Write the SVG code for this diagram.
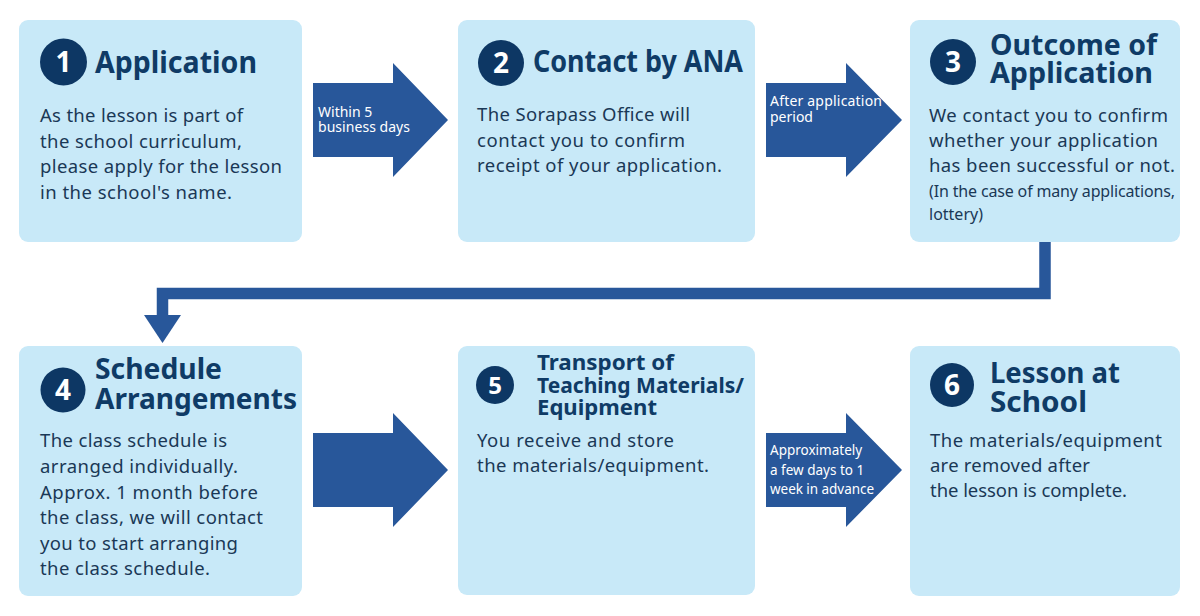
<svg xmlns="http://www.w3.org/2000/svg" width="1200" height="616" viewBox="0 0 1200 616">
<style>
  .box{fill:#c8e9f8;}
  .num{fill:#0d3764;}
  .numt{font-family:"Noto Sans","Open Sans",sans-serif;font-weight:700;fill:#ffffff;text-anchor:middle;}
  .h{font-family:"Noto Sans","Open Sans",sans-serif;font-weight:700;fill:#0f3b66;}
  .b{font-family:"Noto Sans","Open Sans",sans-serif;font-size:18.5px;fill:#1a3856;}
  .s{font-family:"Noto Sans","Open Sans",sans-serif;font-size:16px;fill:#1a3856;}
  .arrow{fill:#28579a;}
  .lbl{font-family:"Noto Sans","Open Sans",sans-serif;font-size:14px;fill:#ffffff;}
  .elbow{fill:none;stroke:#28579a;stroke-width:11.5;}
</style>
<rect width="1200" height="616" fill="#ffffff"/>

<g id="connectors">
  <g id="arrow-1-2">
    <polygon class="arrow" points="313,83 393,83 393,63 448,120 393,177 393,157 313,157"/>
    <text class="lbl"><tspan x="318" y="117">Within 5</tspan><tspan x="318" y="132" textLength="92">business days</tspan></text>
  </g>
  <g id="arrow-2-3">
    <polygon class="arrow" points="766,83 846,83 846,63 902,120 846,177 846,157 766,157"/>
    <text class="lbl"><tspan x="770" y="106" textLength="112">After application</tspan><tspan x="770" y="122">period</tspan></text>
  </g>
  <g id="arrow-3-4">
    <path class="elbow" d="M1045,242 V293.5 H162.5 V316"/>
    <polygon class="arrow" points="144,315 181,315 162.5,343"/>
  </g>
  <g id="arrow-4-5">
    <polygon class="arrow" points="313,433 393,433 393,413 448,470 393,527 393,507 313,507"/>
  </g>
  <g id="arrow-5-6">
    <polygon class="arrow" points="766,433 846,433 846,413 902,470 846,527 846,507 766,507"/>
    <text class="lbl" style="font-size:13.5px"><tspan x="770" y="455">Approximately</tspan><tspan x="770" y="474.5">a few days to 1</tspan><tspan x="770" y="494" textLength="104">week in advance</tspan></text>
  </g>
</g>

<g id="node-1">
  <rect class="box" x="19" y="20" width="283" height="222" rx="9"/>
  <circle class="num" cx="63.5" cy="62" r="23.5"/>
  <text class="numt" x="63.5" y="72" font-size="28">1</text>
  <text class="h" x="95" y="73" font-size="30" textLength="162" lengthAdjust="spacingAndGlyphs">Application</text>
  <text class="b" x="40" y="122" textLength="203">As the lesson is part of</text>
  <text class="b" x="40" y="147.5" textLength="202">the school curriculum,</text>
  <text class="b" x="40" y="173" textLength="242">please apply for the lesson</text>
  <text class="b" x="40" y="199" textLength="192">in the school's name.</text>
</g>

<g id="node-2">
  <rect class="box" x="458" y="20" width="297" height="222" rx="9"/>
  <circle class="num" cx="501" cy="63" r="23"/>
  <text class="numt" x="501" y="73" font-size="28">2</text>
  <text class="h" x="533" y="72" font-size="30" textLength="210" lengthAdjust="spacingAndGlyphs">Contact by ANA</text>
  <text class="b" x="477" y="121" textLength="213">The Sorapass Office will</text>
  <text class="b" x="477" y="146.5" textLength="208">contact you to confirm</text>
  <text class="b" x="477" y="172" textLength="245">receipt of your application.</text>
</g>

<g id="node-3">
  <rect class="box" x="910" y="20" width="270" height="222" rx="9"/>
  <circle class="num" cx="953" cy="62" r="23"/>
  <text class="numt" x="953" y="72" font-size="28">3</text>
  <text class="h" font-size="28"><tspan x="990" y="55" textLength="167" lengthAdjust="spacingAndGlyphs">Outcome of</tspan><tspan x="990" y="83" textLength="163" lengthAdjust="spacingAndGlyphs">Application</tspan></text>
  <text class="b" x="929" y="121.5" textLength="239">We contact you to confirm</text>
  <text class="b" x="929" y="147" textLength="229">whether your application</text>
  <text class="b" x="929" y="172" textLength="246">has been successful or not.</text>
  <text class="s"><tspan x="929" y="197" textLength="246">(In the case of many applications,</tspan><tspan x="929" y="220">lottery)</tspan></text>
</g>

<g id="node-4">
  <rect class="box" x="19" y="346" width="283" height="250" rx="9"/>
  <circle class="num" cx="63" cy="390" r="22.5"/>
  <text class="numt" x="63" y="400" font-size="28">4</text>
  <text class="h" font-size="28"><tspan x="95" y="379" textLength="127" lengthAdjust="spacingAndGlyphs">Schedule</tspan><tspan x="95" y="409" textLength="202" lengthAdjust="spacingAndGlyphs">Arrangements</tspan></text>
  <text class="b" x="40" y="447" textLength="187">The class schedule is</text>
  <text class="b" x="40" y="473" textLength="198">arranged individually.</text>
  <text class="b" x="40" y="498.5" textLength="218">Approx. 1 month before</text>
  <text class="b" x="40" y="524" textLength="223">the class, we will contact</text>
  <text class="b" x="40" y="550" textLength="198">you to start arranging</text>
  <text class="b" x="40" y="575" textLength="170">the class schedule.</text>
</g>

<g id="node-5">
  <rect class="box" x="458" y="346" width="297" height="249" rx="9"/>
  <circle class="num" cx="495" cy="385" r="19"/>
  <text class="numt" x="495" y="394" font-size="24">5</text>
  <text class="h" font-size="21"><tspan x="537" y="370" textLength="137" lengthAdjust="spacingAndGlyphs">Transport of</tspan><tspan x="537" y="393" textLength="207" lengthAdjust="spacingAndGlyphs">Teaching Materials/</tspan><tspan x="537" y="415" textLength="120" lengthAdjust="spacingAndGlyphs">Equipment</tspan></text>
  <text class="b" x="477" y="447" textLength="197">You receive and store</text>
  <text class="b" x="477" y="472" textLength="232">the materials/equipment.</text>
</g>

<g id="node-6">
  <rect class="box" x="910" y="346" width="270" height="250" rx="9"/>
  <circle class="num" cx="952" cy="385" r="22"/>
  <text class="numt" x="952" y="395" font-size="28">6</text>
  <text class="h" font-size="28"><tspan x="990" y="383" textLength="130" lengthAdjust="spacingAndGlyphs">Lesson at</tspan><tspan x="990" y="412" textLength="97" lengthAdjust="spacingAndGlyphs">School</tspan></text>
  <text class="b" x="930" y="447" textLength="232">The materials/equipment</text>
  <text class="b" x="930" y="472" textLength="160">are removed after</text>
  <text class="b" x="930" y="497" textLength="197">the lesson is complete.</text>
</g>
</svg>
